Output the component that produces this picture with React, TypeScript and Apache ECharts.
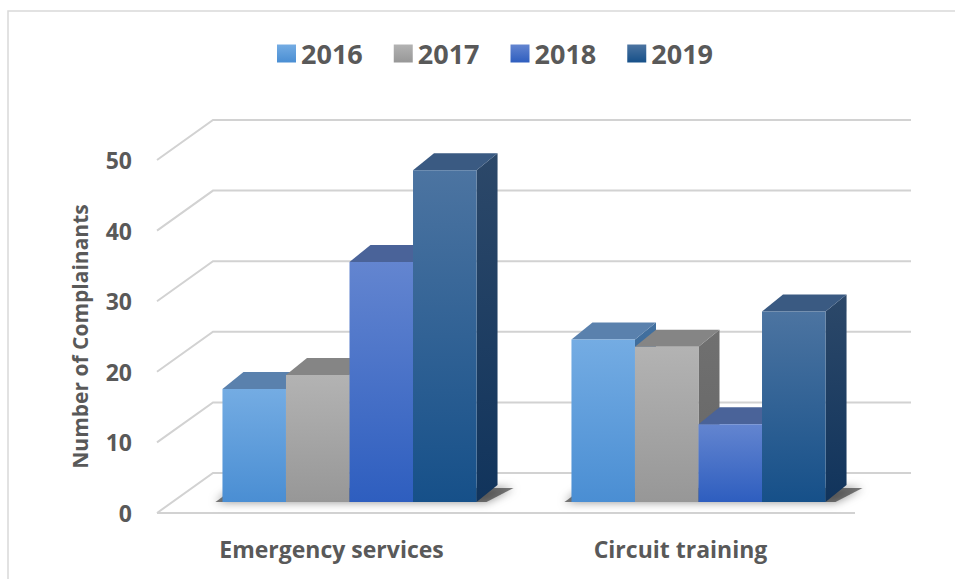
import React, { useEffect, useRef } from "react";
import * as echarts from "echarts";

const categories = ["Emergency services", "Circuit training"];
const years = ["2016", "2017", "2018", "2019"];
const values2016 = [16, 23];
const values2017 = [18, 22];
const values2018 = [34, 11];
const values2019 = [47, 27];
const seriesValues = [values2016, values2017, values2018, values2019];
const yTicks = [0, 10, 20, 30, 40, 50];

const FONT = "'Open Sans', 'Noto Sans', sans-serif";
const TEXT = "#595959";

// depth offsets (pixels)
const WALL_DX = 56;
const WALL_DY = -40;
const BAR_OX = 18;
const BAR_OY = -11;
const BAR_DX = 21;
const BAR_DY = -17;

const palettes = [
  { front: ["#74ace3", "#4a8ed3"], top: "#5a81ad", side: ["#42709f", "#2e5a88"] },
  { front: ["#b3b3b3", "#979797"], top: "#858585", side: ["#707070", "#666666"] },
  { front: ["#6385d0", "#2e5ebf"], top: "#4a6399", side: ["#30508f", "#274785"] },
  { front: ["#4c74a1", "#165089"], top: "#3a5a82", side: ["#2c4869", "#11345c"] },
];

const vGrad = (a: string, b: string) =>
  new echarts.graphic.LinearGradient(0, 0, 0, 1, [
    { offset: 0, color: a },
    { offset: 1, color: b },
  ]);

export default function App() {
  const ref = useRef<HTMLDivElement>(null);
  useEffect(() => {
    if (!ref.current) return;
    const chart = echarts.init(ref.current, null, { renderer: "svg" });

    const wallSeries: any = {
      type: "custom",
      name: "walls",
      silent: true,
      z: 1,
      data: yTicks.map((v) => [0, v]),
      renderItem: (params: any, api: any) => {
        const v = api.value(1);
        const c = api.coord([0, v]);
        const band = api.size([1, 0])[0];
        const left = c[0] - band / 2;
        const right = left + band * categories.length;
        const y = c[1];
        const style = { stroke: "#d2d2d2", lineWidth: 2, fill: null };
        const children: any[] = [
          {
            type: "polyline",
            shape: {
              points: [
                [left, y],
                [left + WALL_DX, y + WALL_DY],
                [right + WALL_DX, y + WALL_DY],
              ],
            },
            style,
          },
        ];
        if (v === 0) {
          children.push({
            type: "line",
            shape: { x1: left, y1: y, x2: right, y2: y },
            style,
          });
        }
        return { type: "group", children };
      },
    };

    const shadowSeries: any = {
      type: "custom",
      name: "shadow",
      silent: true,
      z: 2,
      data: categories.map((_, i) => [i, 0]),
      renderItem: (params: any, api: any) => {
        const c = api.coord([api.value(0), 0]);
        const band = api.size([1, 0])[0];
        const bw = band * 0.182;
        const L = c[0] - 2 * bw + BAR_OX;
        const R = L + 4 * bw;
        const b = c[1] + BAR_OY;
        return {
          type: "polygon",
          shape: {
            points: [
              [L - 7, b],
              [R + 10, b],
              [R + BAR_DX + 16, b + BAR_DY + 3],
              [L + 12, b + BAR_DY + 3],
            ],
          },
          style: {
            fill: "rgba(40,40,40,0.6)",
            shadowBlur: 10,
            shadowColor: "rgba(0,0,0,0.75)",
          },
        };
      },
    };

    const barSeries: any[] = years.map((yr, s) => ({
      type: "custom",
      name: yr,
      z: 3,
      itemStyle: { color: vGrad(palettes[s].front[0], palettes[s].front[1]) },
      data: seriesValues[s].map((v, i) => [i, v]),
      renderItem: (params: any, api: any) => {
        const cat = api.value(0);
        const val = api.value(1);
        const c0 = api.coord([cat, 0]);
        const c1 = api.coord([cat, val]);
        const band = api.size([1, 0])[0];
        const bw = band * 0.182;
        const left = c0[0] - 2 * bw + BAR_OX + s * bw;
        const right = left + bw;
        const bottom = c0[1] + BAR_OY;
        const top = c1[1] + BAR_OY;
        const p = palettes[s];
        return {
          type: "group",
          children: [
            {
              type: "polygon",
              shape: {
                points: [
                  [right, top],
                  [right + BAR_DX, top + BAR_DY],
                  [right + BAR_DX, bottom + BAR_DY],
                  [right, bottom],
                ],
              },
              style: { fill: vGrad(p.side[0], p.side[1]) },
            },
            {
              type: "polygon",
              shape: {
                points: [
                  [left, top],
                  [right, top],
                  [right + BAR_DX, top + BAR_DY],
                  [left + BAR_DX, top + BAR_DY],
                ],
              },
              style: { fill: p.top },
            },
            {
              type: "rect",
              shape: { x: left, y: top, width: bw, height: bottom - top },
              style: { fill: vGrad(p.front[0], p.front[1]) },
            },
          ],
        };
      },
    }));

    chart.setOption({
      animation: false,
      backgroundColor: "#ffffff",
      graphic: [
        {
          type: "rect",
          shape: { x: 8, y: 11, width: 960, height: 600 },
          style: { fill: null, stroke: "#d9d9d9", lineWidth: 1.5 },
          silent: true,
        },
      ],
      legend: {
        data: years,
        left: 272,
        top: 35,
        icon: "rect",
        itemWidth: 19,
        itemHeight: 18,
        itemGap: 31,
        textStyle: { color: TEXT, fontSize: 27, fontWeight: "bold", fontFamily: FONT },
      },
      grid: { left: 157, right: 100, top: 160, bottom: 66 },
      xAxis: {
        type: "category",
        data: categories,
        axisLine: { show: false },
        axisTick: { show: false },
        axisLabel: {
          color: TEXT,
          fontSize: 23,
          fontWeight: "bold",
          fontFamily: FONT,
          margin: 24,
        },
      },
      yAxis: {
        type: "value",
        min: 0,
        max: 50,
        interval: 10,
        name: "Number of Complainants",
        nameLocation: "middle",
        nameGap: 67,
        nameRotate: 90,
        nameTextStyle: { color: TEXT, fontSize: 21, fontWeight: "bold", fontFamily: FONT },
        axisLine: { show: false },
        axisTick: { show: false },
        splitLine: { show: false },
        axisLabel: {
          color: TEXT,
          fontSize: 23,
          fontWeight: "bold",
          fontFamily: FONT,
          margin: 25,
        },
      },
      series: [wallSeries, shadowSeries, ...barSeries],
    });
    return () => chart.dispose();
  }, []);
  return (
    <div
      ref={ref}
      style={{ position: "fixed", left: 0, top: 0, width: 955, height: 579 }}
    />
  );
}
